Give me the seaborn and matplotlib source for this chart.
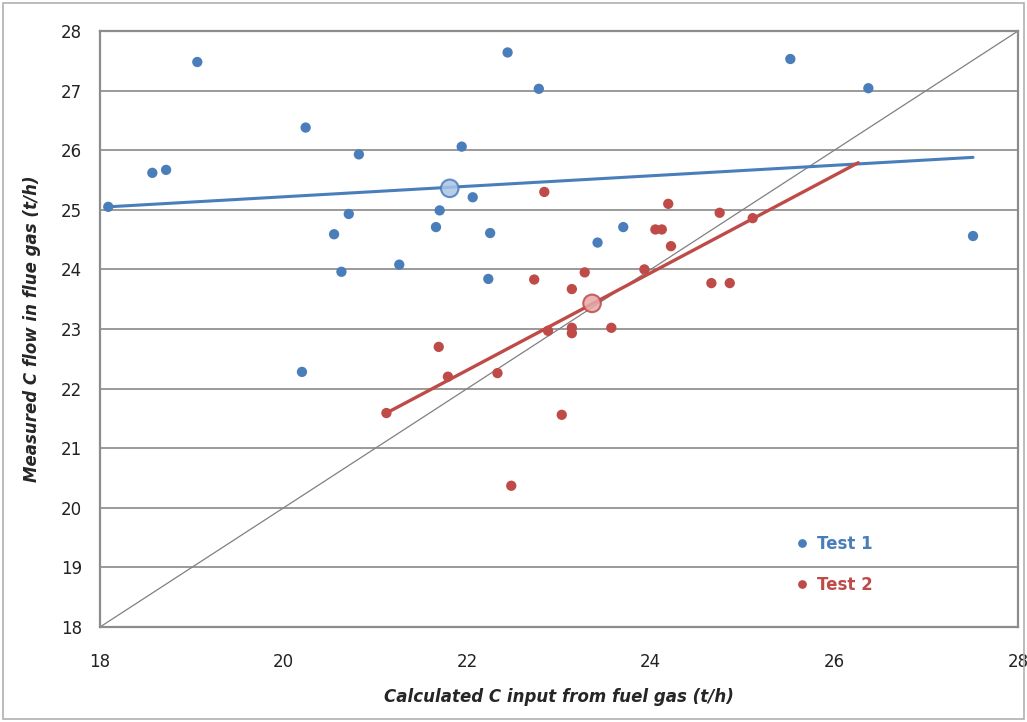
import pandas as pd
import numpy as np
import matplotlib
matplotlib.use('Agg')
import matplotlib.pyplot as plt
import seaborn as sns

# Test 1 points (calculated C input, measured C flow)
test1_x = [18.09, 18.57, 18.72, 19.06, 20.24, 20.82, 20.55, 20.63, 20.71, 21.26,
           20.20, 21.66, 21.70, 21.94, 22.06, 22.25, 22.23, 22.44, 22.78, 23.42,
           23.70, 25.52, 26.37, 27.51]
test1_y = [25.05, 25.62, 25.67, 27.48, 26.38, 25.93, 24.59, 23.96, 24.93, 24.08,
           22.28, 24.71, 24.99, 26.06, 25.21, 24.61, 23.84, 27.64, 27.03, 24.45,
           24.71, 27.53, 27.04, 24.56]

# Test 2 points
test2_x = [22.84, 22.73, 24.19, 24.75, 24.05, 24.12, 24.22, 23.93, 23.28, 23.14,
           24.66, 24.86, 25.11, 22.88, 23.14, 23.14, 23.57, 23.03, 21.69, 21.79,
           21.12, 22.33, 22.48]
test2_y = [25.30, 23.83, 25.10, 24.95, 24.67, 24.67, 24.39, 24.00, 23.95, 23.67,
           23.77, 23.77, 24.86, 22.97, 23.02, 22.93, 23.02, 21.56, 22.70, 22.20,
           21.59, 22.26, 20.37]

# mean points and trend lines
mean_x = [21.81, 23.36]
mean_y = [25.36, 23.43]
trend1_x = [18.09, 27.51]
trend1_y = [25.05, 25.88]
trend2_x = [21.12, 26.26]
trend2_y = [21.59, 25.79]
diag = [18, 28]
series = ['Test 1', 'Test 2']

df = pd.DataFrame({
    'calc': test1_x + test2_x,
    'meas': test1_y + test2_y,
    'test': ['Test 1'] * len(test1_x) + ['Test 2'] * len(test2_x),
})
df_mean = pd.DataFrame({'calc': mean_x, 'meas': mean_y, 'test': series})

blue = '#4a7ebb'
red = '#be4b48'
pal = {'Test 1': blue, 'Test 2': red}

sns.set_theme(style='white')
plt.rcParams['font.family'] = ['DejaVu Sans']

fig = plt.figure(figsize=(10.27, 7.22), dpi=100)
ax = fig.add_axes([100 / 1027, 95 / 722, 918 / 1027, 596 / 722])

# 1:1 line
ax.plot(diag, diag, color='#808080', lw=0.9, zorder=1)

# trend lines
ax.plot(trend1_x, trend1_y, color=blue, lw=2.2, zorder=2)
ax.plot(trend2_x, trend2_y, color=red, lw=2.4, zorder=2)

sns.scatterplot(data=df, x='calc', y='meas', hue='test', palette=pal,
                s=55, edgecolor='none', ax=ax, zorder=3)

# mean points
sns.scatterplot(data=df_mean, x='calc', y='meas', hue='test',
                palette={'Test 1': '#a9c4e6', 'Test 2': '#e6a9a8'},
                s=160, edgecolor=[blue, red], linewidth=1.5, alpha=0.85,
                legend=False, ax=ax, zorder=4)

ax.set_xlim(18, 28)
ax.set_ylim(18, 28)
ax.set_xticks(range(18, 29, 2))
ax.set_yticks(range(18, 29, 1))
ax.yaxis.grid(True, color='#9a9a9a', lw=1.4)
ax.xaxis.grid(False)
ax.set_axisbelow(True)
for s in ax.spines.values():
    s.set_color('#8c8c8c')
    s.set_linewidth(1.6)
ax.tick_params(axis='both', labelsize=12, colors='#222222', length=5,
               width=1.2, direction='out', color='#8c8c8c', pad=8)
ax.tick_params(axis='x', pad=14)

ax.set_xlabel('Calculated C input from fuel gas (t/h)', fontsize=12,
              fontweight='bold', fontstyle='italic', labelpad=12)
ax.set_ylabel('Measured C flow in flue gas (t/h)', fontsize=12,
              fontweight='bold', fontstyle='italic', labelpad=14)

handles, labels = ax.get_legend_handles_labels()
leg = ax.legend(handles, labels, loc='lower left', bbox_to_anchor=(0.73, 0.03),
                frameon=False, fontsize=12, handletextpad=-0.1, labelspacing=1.4,
                markerscale=0.85, labelcolor='markerfacecolor')
for t in leg.get_texts():
    t.set_fontweight('bold')

fig.patches.append(plt.Rectangle((0.003, 0.004), 0.994, 0.992, transform=fig.transFigure,
                                 fill=False, edgecolor='#b0b0b0', lw=1.2))

fig.savefig('out.png', dpi=100, facecolor='white')
